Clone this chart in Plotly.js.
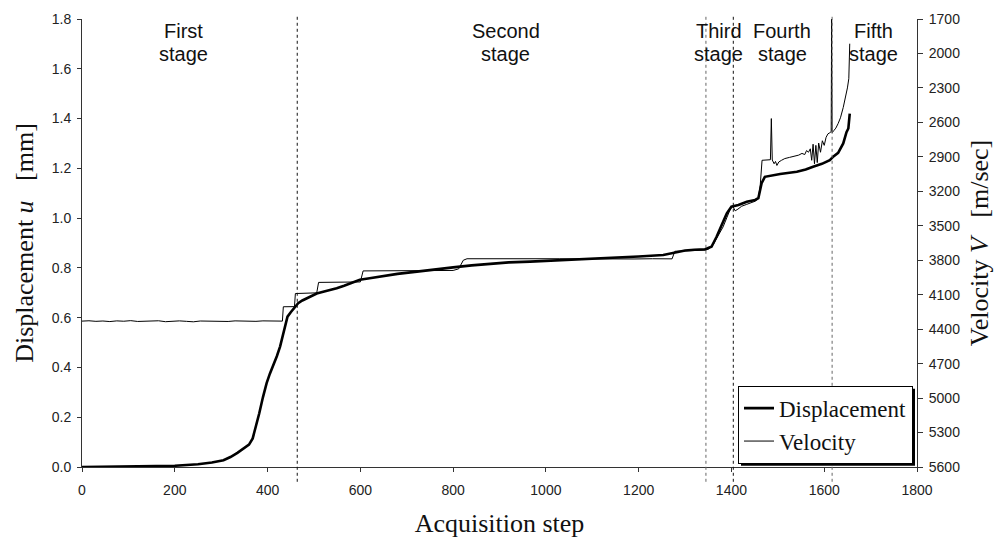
<!DOCTYPE html>
<html>
<head>
<meta charset="utf-8">
<script src="https://cdn.plot.ly/plotly-3.0.1.min.js"></script>
<style>html,body{margin:0;padding:0;background:#fff;}#chart{width:997px;height:539px;}</style>
</head>
<body>
<div id="chart"></div>
<script>
// Displacement [mm] vs acquisition step
const dispStep = [0,50,100,150,200,250,280,305,320,335,350,360,368,375,382,390,398,405,412,420,427,433,438,443,450,457,466,475,484,495,506,520,535,549,565,580,599,620,650,680,722,760,800,840,880,920,966,1000,1050,1109,1150,1200,1253,1270,1282,1300,1320,1343,1357,1368,1379,1390,1400,1415,1433,1451,1458,1462,1465,1472,1490,1505,1541,1560,1576,1595,1612,1620,1630,1641,1648,1652,1655];
const dispVal  = [0,0.001,0.002,0.003,0.005,0.011,0.018,0.027,0.040,0.057,0.075,0.090,0.115,0.160,0.215,0.280,0.337,0.375,0.405,0.445,0.484,0.530,0.564,0.604,0.622,0.640,0.658,0.669,0.678,0.688,0.697,0.704,0.710,0.718,0.728,0.740,0.752,0.758,0.767,0.776,0.785,0.792,0.802,0.810,0.817,0.822,0.825,0.828,0.832,0.836,0.840,0.846,0.852,0.858,0.865,0.870,0.873,0.875,0.885,0.925,0.972,1.019,1.046,1.053,1.066,1.073,1.080,1.110,1.140,1.166,1.173,1.177,1.186,1.195,1.206,1.218,1.233,1.248,1.262,1.300,1.345,1.360,1.420];

// Velocity [m/sec] vs acquisition step
const velStep = [0,15,30,45,60,75,90,105,120,135,150,165,180,195,210,225,240,255,270,285,300,315,330,345,360,375,390,405,420,432,434,446,458,460,475,490,506,510,530,555,580,600,606,640,680,720,760,800,812,822,830,870,910,950,990,1030,1070,1110,1150,1190,1230,1272,1278,1295,1310,1325,1345,1352,1360,1368,1375,1382,1390,1398,1403,1408,1414,1422,1432,1442,1452,1458,1462,1466,1475,1484,1486,1488,1492,1495,1498,1502,1508,1515,1525,1535,1545,1552,1558,1562,1566,1570,1573,1576,1579,1582,1585,1588,1592,1596,1600,1604,1608,1612,1615,1616,1617,1621,1625,1630,1635,1641,1646,1650,1653,1654,1655];
const velVal  = [4330,4327,4332,4329,4334,4328,4331,4326,4333,4329,4331,4327,4335,4330,4328,4332,4336,4329,4331,4327,4330,4333,4328,4331,4329,4332,4328,4330,4329,4330,4205,4203,4204,4090,4088,4087,4084,3993,3992,3990,3991,3989,3893,3893,3891,3892,3891,3889,3875,3800,3787,3786,3788,3786,3789,3787,3788,3790,3788,3789,3787,3788,3722,3721,3718,3719,3712,3700,3670,3610,3560,3510,3430,3350,3330,3370,3355,3330,3315,3300,3285,3260,3150,2930,2928,2925,2567,2928,2960,2940,2975,2945,2930,2915,2905,2895,2885,2870,2880,2845,2860,2830,2930,2790,2960,2800,2950,2780,2860,2760,2800,2730,2700,2690,2680,1700,2690,2670,2650,2610,2560,2470,2380,2300,2220,2100,1915];

// Stage boundaries and labels
const stageBounds = [464, 1345, 1404, 1617];
const stageLine1 = ["First", "Second", "Third", "Fourth", "Fifth"];
const stageLine2 = ["stage", "stage", "stage", "stage", "stage"];
const stageLabelX = [218, 914, 1373, 1509, 1707];

const sans = "Liberation Sans, Arial, sans-serif";
const serif = "Liberation Serif, Times New Roman, serif";

const traces = [
  {x: dispStep, y: dispVal, name: "Displacement", type: "scatter", mode: "lines",
   line: {color: "#000", width: 2.6}, yaxis: "y"},
  {x: velStep, y: velVal, name: "Velocity", type: "scatter", mode: "lines",
   line: {color: "#000", width: 1}, yaxis: "y2"}
];

const shapes = stageBounds.map((b, i) => ({
  type: "line", xref: "x", yref: "paper", x0: b, x1: b, y0: -0.033, y1: 1.005,
  line: {color: (i === 1 || i === 3) ? "#666" : "#111", width: 1, dash: "3px,3px"}
}));

const annotations = [];
stageLine1.forEach((t, i) => {
  annotations.push({text: t, x: stageLabelX[i], xref: "x", y: (467.3-31)/448, yref: "paper",
    yanchor: "middle", xanchor: "center", showarrow: false,
    font: {family: sans, size: 20, color: "#111"}});
  annotations.push({text: stageLine2[i], x: stageLabelX[i], xref: "x", y: (467.3-54)/448, yref: "paper",
    yanchor: "middle", xanchor: "center", showarrow: false,
    font: {family: sans, size: 20, color: "#111"}});
});

const layout = {
  width: 997, height: 539,
  margin: {l: 82, r: 80, t: 19, b: 72},
  paper_bgcolor: "#fff", plot_bgcolor: "#fff",
  showlegend: true,
  legend: {x: (738-82)/835, y: (467.3-386)/448, xanchor: "left", yanchor: "top",
    bgcolor: "#fff", bordercolor: "#000", borderwidth: 1,
    font: {family: serif, size: 23, color: "#111"}, tracegroupgap: 0},
  xaxis: {range: [0, 1800], dtick: 200, tick0: 0, showgrid: false, zeroline: false,
    showline: true, linecolor: "#333", linewidth: 1, ticks: "outside", ticklen: 4,
    tickcolor: "#333", tickfont: {family: sans, size: 14, color: "#222"}, ticklabelstandoff: 6,
    title: {text: "Acquisition step", font: {family: serif, size: 26, color: "#111"}, standoff: 17},
    automargin: false},
  yaxis: {range: [0, 1.8], dtick: 0.2, tick0: 0, tickformat: ".1f", showgrid: false, zeroline: false,
    showline: true, linecolor: "#333", linewidth: 1, ticks: "outside", ticklen: 4,
    tickcolor: "#333", tickfont: {family: sans, size: 14, color: "#222"}, ticklabelstandoff: 3,
    title: {text: "Displacement <i>u</i>\u00a0\u00a0 [mm]", font: {family: serif, size: 26, color: "#111"}, standoff: 10},
    automargin: false},
  yaxis2: {range: [5600, 1700], tick0: 1700, dtick: 300, overlaying: "y", side: "right",
    showgrid: false, zeroline: false, showline: true, linecolor: "#333", linewidth: 1,
    ticks: "outside", ticklen: 5, tickcolor: "#333", tickfont: {family: sans, size: 14, color: "#222"},
    ticklabelstandoff: 3,
    title: {text: "Velocity <i>V</i>\u00a0\u00a0 [m/sec]", font: {family: serif, size: 26, color: "#111"}, standoff: 10},
    automargin: false},
  shapes: shapes,
  annotations: annotations
};

Plotly.newPlot("chart", traces, layout, {displayModeBar: false, staticPlot: true}).then(gd => {
  // legend drop shadow, placed from the rendered legend box
  const leg = gd.querySelector(".legend");
  const bg = leg && leg.querySelector(".bg");
  if (!bg) return;
  const m = /translate\(\s*([-\d.]+)[ ,]+([-\d.]+)/.exec(leg.getAttribute("transform") || "");
  if (!m) return;
  const lx = parseFloat(m[1]), ly = parseFloat(m[2]);
  const w = parseFloat(bg.getAttribute("width")), h = parseFloat(bg.getAttribute("height"));
  const sz = gd._fullLayout._size;
  const shadow = {type: "rect", xref: "paper", yref: "paper", layer: "above",
    x0: (lx + 3 - sz.l) / sz.w, x1: (lx + w + 3 - sz.l) / sz.w,
    y0: 1 - (ly + h + 3 - sz.t) / sz.h, y1: 1 - (ly + 3 - sz.t) / sz.h,
    fillcolor: "#000", line: {width: 0}};
  return Plotly.relayout(gd, {shapes: shapes.concat([shadow])});
});
</script>
</body>
</html>
